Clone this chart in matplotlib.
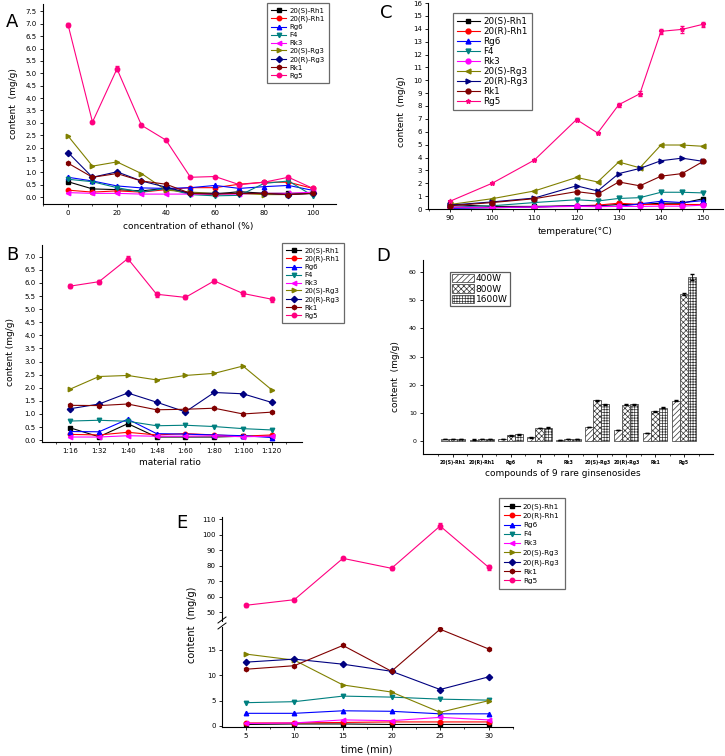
import matplotlib
matplotlib.use("Agg")
import matplotlib.pyplot as plt
from matplotlib.ticker import MultipleLocator, FixedLocator

W, H = 725, 756

names = ["20(S)-Rh1", "20(R)-Rh1", "Rg6", "F4", "Rk3",
         "20(S)-Rg3", "20(R)-Rg3", "Rk1", "Rg5"]
colors = ["#000000", "#ff0000", "#0000ff", "#008080", "#ff00ff",
          "#808000", "#000080", "#800000", "#ff0080"]
marks_abe = ["s", "o", "^", "v", "<", ">", "D", "h", "o"]
marks_c = ["s", "o", "^", "v", "o", "<", ">", "o", "*"]

# A: concentration of ethanol (%)
ethanol = [0, 10, 20, 30, 40, 50, 60, 70, 80, 90, 100]
a_content = [
    [0.62, 0.33, 0.30, 0.25, 0.35, 0.15, 0.12, 0.22, 0.15, 0.15, 0.15],
    [0.28, 0.20, 0.25, 0.20, 0.30, 0.38, 0.38, 0.52, 0.60, 0.60, 0.35],
    [0.80, 0.65, 0.45, 0.37, 0.35, 0.38, 0.47, 0.35, 0.42, 0.47, 0.27],
    [0.72, 0.62, 0.38, 0.20, 0.35, 0.10, 0.05, 0.07, 0.55, 0.65, 0.05],
    [0.18, 0.15, 0.15, 0.12, 0.12, 0.12, 0.12, 0.12, 0.15, 0.15, 0.20],
    [2.47, 1.25, 1.42, 0.95, 0.28, 0.20, 0.15, 0.15, 0.10, 0.10, 0.15],
    [1.80, 0.80, 1.02, 0.65, 0.40, 0.15, 0.15, 0.15, 0.15, 0.10, 0.15],
    [1.37, 0.80, 0.95, 0.65, 0.52, 0.15, 0.12, 0.15, 0.15, 0.10, 0.15],
    [6.97, 3.03, 5.18, 2.90, 2.30, 0.80, 0.83, 0.50, 0.60, 0.80, 0.35],
]
a_rg5_err = [0.08, 0.05, 0.1, 0.05, 0.05, 0.04, 0.04, 0.04, 0.04, 0.05, 0.04]

# B: material ratio
ratio = ["1:16", "1:32", "1:40", "1:48", "1:60", "1:80", "1:100", "1:120"]
b_content = [
    [0.47, 0.13, 0.63, 0.12, 0.12, 0.12, 0.15, 0.15],
    [0.22, 0.20, 0.30, 0.20, 0.25, 0.20, 0.15, 0.20],
    [0.33, 0.32, 0.80, 0.25, 0.23, 0.20, 0.17, 0.10],
    [0.73, 0.76, 0.72, 0.55, 0.57, 0.52, 0.44, 0.39],
    [0.12, 0.12, 0.17, 0.15, 0.15, 0.17, 0.13, 0.15],
    [1.95, 2.43, 2.47, 2.30, 2.47, 2.55, 2.83, 1.92],
    [1.20, 1.38, 1.80, 1.45, 1.08, 1.82, 1.77, 1.44],
    [1.33, 1.32, 1.38, 1.16, 1.18, 1.22, 1.00, 1.07],
    [5.88, 6.05, 6.93, 5.57, 5.45, 6.08, 5.60, 5.38],
]
b_rg5_err = [0.08, 0.08, 0.1, 0.1, 0.08, 0.08, 0.1, 0.1]

# C: temperature
temperature = [90, 100, 110, 120, 125, 130, 135, 140, 145, 150]
c_content = [
    [0.35, 0.20, 0.20, 0.25, 0.25, 0.35, 0.35, 0.45, 0.45, 0.80],
    [0.10, 0.10, 0.15, 0.25, 0.30, 0.45, 0.35, 0.35, 0.35, 0.35],
    [0.05, 0.10, 0.15, 0.25, 0.22, 0.20, 0.40, 0.60, 0.50, 0.65],
    [0.15, 0.25, 0.50, 0.72, 0.62, 0.82, 0.88, 1.30, 1.30, 1.25],
    [0.15, 0.12, 0.15, 0.20, 0.18, 0.20, 0.20, 0.22, 0.22, 0.30],
    [0.35, 0.80, 1.40, 2.45, 2.10, 3.65, 3.20, 4.97, 4.97, 4.87],
    [0.30, 0.55, 0.85, 1.80, 1.40, 2.75, 3.15, 3.75, 3.95, 3.70],
    [0.25, 0.50, 0.80, 1.35, 1.15, 2.10, 1.80, 2.55, 2.75, 3.70],
    [0.60, 2.00, 3.80, 6.95, 5.90, 8.10, 8.95, 13.80, 13.95, 14.35],
]
c_rg5_err = [0.05, 0.05, 0.05, 0.15, 0.1, 0.15, 0.2, 0.2, 0.3, 0.2]

# D: microwave power
compounds = names
d_400 = [0.6, 0.5, 0.6, 1.3, 0.3, 5.0, 4.0, 2.9, 14.4]
d_800 = [0.6, 0.6, 2.0, 4.6, 0.6, 14.5, 12.9, 10.6, 52.2]
d_1600 = [0.6, 0.6, 2.4, 4.8, 0.6, 13.0, 13.1, 11.8, 58.3]
d_err_400 = [0.05, 0.05, 0.05, 0.05, 0.05, 0.1, 0.1, 0.1, 0.2]
d_err_800 = [0.05, 0.05, 0.1, 0.1, 0.05, 0.2, 0.2, 0.2, 0.3]
d_err_1600 = [0.05, 0.05, 0.1, 0.1, 0.05, 0.2, 0.2, 0.2, 1.0]

# E: time
time_min = [5, 10, 15, 20, 25, 30]
e_content = [
    [0.3, 0.4, 0.4, 0.3, 0.3, 0.3],
    [0.6, 0.6, 0.7, 0.8, 0.8, 0.8],
    [2.5, 2.5, 3.0, 2.9, 2.4, 2.4],
    [4.6, 4.8, 5.9, 5.7, 5.3, 5.1],
    [0.5, 0.6, 1.2, 1.05, 1.7, 1.2],
    [14.2, 13.0, 8.1, 6.7, 2.7, 5.0],
    [12.6, 13.2, 12.2, 10.8, 7.2, 9.7],
    [11.2, 11.9, 15.9, 10.8, 19.1, 15.2],
    [54.5, 58.1, 84.7, 78.3, 105.5, 78.9],
]
e_rg5_err = [0.8, 0.8, 1.0, 0.8, 2.0, 1.5]


def box(l, t, r, b):
    """pixel box -> figure fraction rect"""
    return [l / W, 1 - b / H, (r - l) / W, (b - t) / H]


def fx(x, y):
    return x / W, 1 - y / H


def style(ax, fs=5):
    for s in ("top", "right"):
        ax.spines[s].set_visible(False)
    for s in ("left", "bottom"):
        ax.spines[s].set_linewidth(0.8)
    ax.tick_params(which="major", direction="out", length=2.5, width=0.6,
                   labelsize=fs, pad=2)
    ax.tick_params(which="minor", direction="out", length=1.5, width=0.5)


def lines(ax, x, rows, err, marks, ms=3.2, lw=0.8):
    hs = []
    for i, row in enumerate(rows):
        if i == 8:
            h = ax.errorbar(x, row, yerr=err, color=colors[i], marker=marks[i],
                            ms=ms, lw=lw, capsize=1.2, elinewidth=0.6)
        else:
            h = ax.errorbar(x, row, color=colors[i], marker=marks[i],
                            ms=ms, lw=lw)
        hs.append(h[0])
    return hs


def legend(ax, hs, x, y, fs, sp, hl=2.2, pad=0.6):
    lg = ax.legend(hs, names, loc="upper left", bbox_to_anchor=fx(x, y),
                   bbox_transform=fig.transFigure, fontsize=fs,
                   labelspacing=sp, handlelength=hl, handletextpad=0.4,
                   borderpad=pad, borderaxespad=0, fancybox=False,
                   frameon=True, edgecolor="#444444")
    lg.get_frame().set_linewidth(0.9)
    return lg


plt.rcParams["hatch.linewidth"] = 0.5
fig = plt.figure(figsize=(W / 100, H / 100), dpi=100)

# ---- A ----
axA = fig.add_axes(box(43, 4, 336, 204))
style(axA)
hs = lines(axA, ethanol, a_content, a_rg5_err, marks_abe)
axA.set_xlim(-10.2, 109.4)
axA.set_ylim(-0.28, 7.8)
axA.xaxis.set_major_locator(MultipleLocator(20))
axA.xaxis.set_minor_locator(MultipleLocator(10))
axA.yaxis.set_major_locator(MultipleLocator(0.5))
axA.yaxis.set_major_formatter("{x:.1f}")
legend(axA, hs, 267, 3, 5, 0.28)
fig.text(*fx(188, 226), "concentration of ethanol (%)", fontsize=6.5,
         ha="center", va="center")
fig.text(*fx(14, 104), "content  (mg/g)", fontsize=6.5, rotation=90,
         ha="center", va="center")
fig.text(*fx(12, 22), "A", fontsize=13, ha="center", va="center")

# ---- B ----
axB = fig.add_axes(box(42, 245, 302, 442))
style(axB)
xb = list(range(len(ratio)))
hs = lines(axB, xb, b_content, b_rg5_err, marks_abe)
axB.set_xlim(-0.98, 8.05)
axB.set_ylim(-0.07, 7.45)
axB.set_xticks(xb)
axB.set_xticklabels(ratio)
axB.xaxis.set_minor_locator(FixedLocator([v + 0.5 for v in range(-1, 8)]))
axB.yaxis.set_major_locator(MultipleLocator(0.5))
axB.yaxis.set_major_formatter("{x:.1f}")
legend(axB, hs, 282, 243, 5, 0.28)
fig.text(*fx(170, 462), "material ratio", fontsize=6.5, ha="center",
         va="center")
fig.text(*fx(11, 352), "content (mg/g)", fontsize=6.5, rotation=90,
         ha="center", va="center")
fig.text(*fx(12, 255), "B", fontsize=13, ha="center", va="center")

# ---- C ----
axC = fig.add_axes(box(428, 3, 723, 209))
style(axC)
hs = lines(axC, temperature, c_content, c_rg5_err, marks_c, ms=3.5)
axC.set_xlim(84.8, 154.7)
axC.set_ylim(0, 16)
axC.xaxis.set_major_locator(MultipleLocator(10))
axC.xaxis.set_minor_locator(MultipleLocator(5))
axC.yaxis.set_major_locator(MultipleLocator(1))
legend(axC, hs, 453, 13, 6.3, 0.12, hl=2.6, pad=0.45)
fig.text(*fx(575, 232), "temperature(°C)", fontsize=6.5, ha="center",
         va="center")
fig.text(*fx(402, 112), "content  (mg/g)", fontsize=6.5, rotation=90,
         ha="center", va="center")
fig.text(*fx(386, 13), "C", fontsize=13, ha="center", va="center")

# ---- D ----
axD = fig.add_axes(box(423, 260, 713, 454))
style(axD, fs=4.5)
xd = list(range(len(compounds)))
bw = 0.28
series_d = [(d_400, d_err_400, "//////", "400W"),
            (d_800, d_err_800, "xxxxxx", "800W"),
            (d_1600, d_err_1600, "++++++", "1600W")]
for k, (vals, err, hatch, lab) in enumerate(series_d):
    pos = [v + (k - 1) * bw for v in xd]
    axD.bar(pos, vals, width=bw, yerr=err, color="white", edgecolor="#333333",
            hatch=hatch, linewidth=0.5, label=lab,
            error_kw=dict(elinewidth=0.6, capsize=1.2, ecolor="black"))
axD.set_xlim(-1.03, 9.0)
axD.set_ylim(-4.6, 64.3)
axD.set_xticks(xd)
axD.set_xticklabels(compounds, fontsize=3.3, fontweight="bold")
axD.xaxis.set_minor_locator(FixedLocator([v + 0.5 for v in range(-1, 9)]))
axD.yaxis.set_major_locator(MultipleLocator(10))
lg = axD.legend(loc="upper left", bbox_to_anchor=fx(450, 272),
                bbox_transform=fig.transFigure, fontsize=6.5, labelspacing=0.12,
                handlelength=2.4, handleheight=1.0, handletextpad=0.2,
                borderpad=0.25, borderaxespad=0, fancybox=False,
                edgecolor="#333333")
lg.get_frame().set_linewidth(0.9)
fig.text(*fx(563, 474), "compounds of 9 rare ginsenosides", fontsize=6.5,
         ha="center", va="center")
fig.text(*fx(395, 377), "content  (mg/g)", fontsize=6.5, rotation=90,
         ha="center", va="center")
fig.text(*fx(383, 256), "D", fontsize=13, ha="center", va="center")

# ---- E (broken y axis) ----
axEu = fig.add_axes(box(222, 517, 513, 621))
axEl = fig.add_axes(box(222, 627, 513, 727))
for ax in (axEu, axEl):
    style(ax)
    hs = lines(ax, time_min, e_content, e_rg5_err, marks_abe)
    ax.set_xlim(2.56, 32.5)
    ax.xaxis.set_major_locator(MultipleLocator(5))
    ax.xaxis.set_minor_locator(MultipleLocator(2.5))
axEu.set_ylim(44.4, 111.3)
axEu.yaxis.set_major_locator(MultipleLocator(10))
axEu.spines["bottom"].set_visible(False)
axEu.tick_params(axis="x", which="both", bottom=False, labelbottom=False)
axEl.set_ylim(-0.2, 19.54)
axEl.yaxis.set_major_locator(MultipleLocator(5))
legend(axEu, hs, 499, 498, 5.2, 0.42, pad=0.7)
# break marks
for dy in (-3, 3):
    x0, y0 = fx(218, 626 + dy)
    x1, y1 = fx(226, 620 + dy)
    fig.add_artist(plt.Line2D([x0, x1], [y0, y1], color="black", lw=0.7))
fig.text(*fx(367, 750), "time (min)", fontsize=7, ha="center", va="center")
fig.text(*fx(192, 625), "content  (mg/g)", fontsize=7, rotation=90,
         ha="center", va="center")
fig.text(*fx(182, 523), "E", fontsize=13, ha="center", va="center")

fig.savefig("out.png", dpi=100)
